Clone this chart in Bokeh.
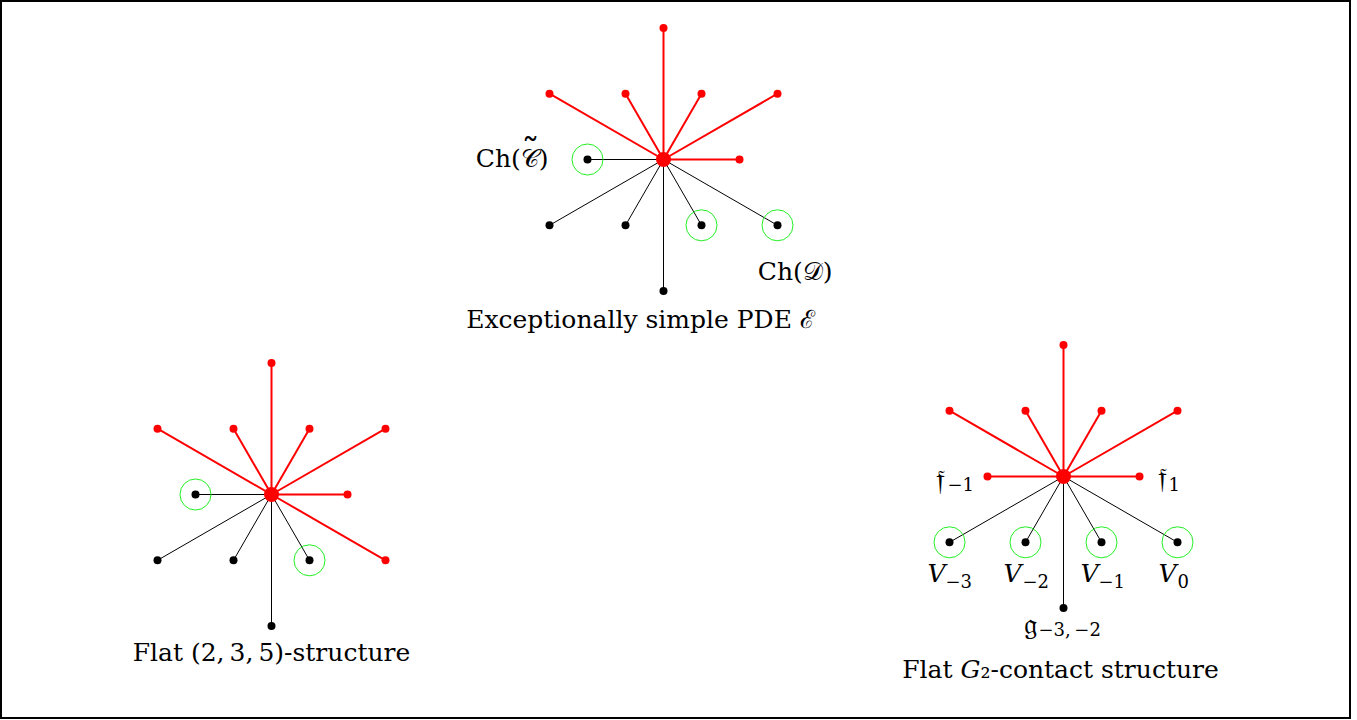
from bokeh.plotting import figure
from bokeh.models import Range1d
from bokeh.core.properties import value
from bokeh.embed import file_html
from bokeh.resources import INLINE

# G2 root system: x in half-short-root units, y in rows
root_x = [0, -3, -1, 1, 3, -2, 2, -3, -1, 1, 3, 0]
root_y = [2, 1, 1, 1, 1, 0, 0, -1, -1, -1, -1, -2]

# Diagram centres (pixels)
diag_names = ["pde", "g235", "contact"]
diag_cx = [663, 271, 1063]
diag_cy = [159, 494, 476]

# red (p-part) flags and green-circled flags per diagram, aligned with roots
red_flags = {
    "pde":     [1, 1, 1, 1, 1, 0, 1, 0, 0, 0, 0, 0],
    "g235":    [1, 1, 1, 1, 1, 0, 1, 0, 0, 0, 1, 0],
    "contact": [1, 1, 1, 1, 1, 1, 1, 0, 0, 0, 0, 0],
}
circ_flags = {
    "pde":     [0, 0, 0, 0, 0, 1, 0, 0, 0, 1, 1, 0],
    "g235":    [0, 0, 0, 0, 0, 1, 0, 0, 0, 1, 0, 0],
    "contact": [0, 0, 0, 0, 0, 0, 0, 1, 1, 1, 1, 0],
}

# titles
titles = ["Exceptionally simple PDE \u2130", "Flat (2,\u20093,\u20095)-structure", "Flat \U0001D43A\u2082-contact structure"]
title_x = [640, 271, 1060]
title_y = [319, 652, 669]

# PDE labels
pde_labels = ["Ch(\U0001D49E)", "Ch(\U0001D49F)"]
pde_label_x = [548, 832]
pde_label_y = [158, 271]
tilde_x = [530]
tilde_y = [151]

# contact-structure labels: main symbol + subscript
main_labels = ["\U0001D523", "\U0001D523", "V", "V", "V", "V", "\U0001D524"]
main_x = [935, 1157, 927, 1003, 1080, 1158, 1023]
main_y = [479, 477, 573, 573, 573, 573, 623]
main_italic = [0, 0, 1, 1, 1, 1, 0]
sub_labels = ["\u22121", "1", "\u22123", "\u22122", "\u22121", "0", "\u22123,\u2009\u22122"]
sub_x = [947, 1168, 945, 1022, 1098, 1177, 1038]
sub_y = [483, 483, 580, 580, 580, 580, 629]

UX = 38.0   # px per half short root
UY = 65.8   # px per row

W, H = 1351, 719
p = figure(width=W, height=H, x_range=Range1d(0, W), y_range=Range1d(H, 0),
           output_backend="svg", toolbar_location=None, min_border=0)
p.axis.visible = False
p.grid.visible = False
p.outline_line_color = "black"
p.outline_line_width = 3
p.background_fill_color = "white"
p.border_fill_color = "white"

for name, cx, cy in zip(diag_names, diag_cx, diag_cy):
    xs = [cx + a * UX for a in root_x]
    ys = [cy - b * UY for b in root_y]
    red = red_flags[name]
    circ = circ_flags[name]
    bx = [x for x, r in zip(xs, red) if not r]
    by = [y for y, r in zip(ys, red) if not r]
    rx = [x for x, r in zip(xs, red) if r]
    ry = [y for y, r in zip(ys, red) if r]
    p.segment(x0=[cx] * len(bx), y0=[cy] * len(bx), x1=bx, y1=by, line_color="black", line_width=1)
    p.segment(x0=[cx] * len(rx), y0=[cy] * len(rx), x1=rx, y1=ry, line_color="#ff0000", line_width=2)
    cxs = [x for x, c in zip(xs, circ) if c]
    cys = [y for y, c in zip(ys, circ) if c]
    p.scatter(cxs, cys, size=31, fill_color=None, line_color="#22ee22", line_width=1)
    p.scatter(bx, by, size=8, fill_color="black", line_color=None)
    p.scatter(rx, ry, size=8, fill_color="#ff0000", line_color=None)
    p.scatter([cx], [cy], size=15, fill_color="#ff0000", line_color=None)

FONT = value("DejaVu Serif")
p.text(title_x, title_y, text=titles, text_font=FONT, text_font_size="25px",
       text_align="center", text_baseline="middle", text_color="black")
p.text(pde_label_x, pde_label_y, text=pde_labels, text_font=FONT, text_font_size="25px",
       text_align="right", text_baseline="middle", text_color="black")
p.text(tilde_x, tilde_y, text=["\u02DC"], text_font=FONT, text_font_size="36px",
       text_align="center", text_baseline="middle", text_color="black")

ix = [i for i, it in enumerate(main_italic) if it]
nx = [i for i, it in enumerate(main_italic) if not it]
p.text([main_x[i] for i in ix], [main_y[i] for i in ix], text=[main_labels[i] for i in ix],
       text_font=FONT, text_font_size="25px", text_font_style="italic",
       text_align="left", text_baseline="middle", text_color="black")
p.text([main_x[i] for i in nx], [main_y[i] for i in nx], text=[main_labels[i] for i in nx],
       text_font=FONT, text_font_size="30px",
       text_align="left", text_baseline="middle", text_color="black")
p.text(sub_x, sub_y, text=sub_labels, text_font=FONT, text_font_size="18px",
       text_align="left", text_baseline="middle", text_color="black")

open("out.html", "w").write(file_html(p, INLINE))
